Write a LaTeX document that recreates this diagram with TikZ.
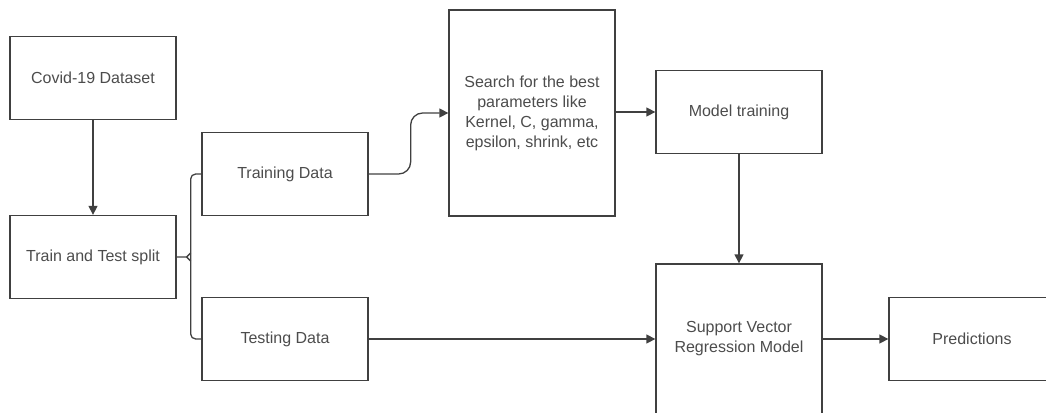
\documentclass[tikz,border=0pt]{standalone}
\usepackage{fontspec}
\setmainfont{Liberation Sans}
\usetikzlibrary{calc}
\usetikzlibrary{arrows.meta,positioning}

\tikzset{
  blk/.style={draw=black!75, line width=1.3pt, minimum width=166pt, minimum height=83pt,
    inner sep=0pt, align=center, text=black!70, font=\fontsize{16}{20}\selectfont},
  ln/.style={draw=black!75, line width=1.3pt},
  arr/.style={ln, -{Triangle[length=9pt,width=9pt]}},
}

\begin{document}
\begin{tikzpicture}[x=1pt,y=-1pt]
    \useasboundingbox (0,0) rectangle (1046,412);
    \clip (0,0) rectangle (1046,412);
    % boxes
    \node[blk] (covid) at (93,78) {Covid-19 Dataset};
    \node[blk] (split) at (93,257) {Train and Test split};
    \node[blk] (trn) at (285,174) {Training Data};
    \node[blk] (tst) at (285,339) {Testing Data};
    \node[blk, minimum height=206pt] (srch) at (532,113)
      {Search for the best\\parameters like\\Kernel, C, gamma,\\epsilon, shrink, etc};
    \node[blk] (mtrain) at (739,112) {Model training};
    \node[blk, minimum height=150pt] (svr) at (739,339) {Support Vector\\Regression Model};
    \node[blk] (pred) at (972,339) {Predictions};
    % brace
    \coordinate (brc) at ($(split.east)+(14,0)$);
    \draw[ln, rounded corners=5pt] (trn.west) -| (brc) |- (tst.west);
    \draw[ln] (split.east) -- ++(10,0) coordinate (tip) -- ++(4,-4);
    \draw[ln] (tip) -- ++(4,4);
    % arrows
    \draw[arr] (covid) -- (split);
    \draw[arr, rounded corners=12pt] (trn.east) -- ++(42,0) |- (srch.west);
    \draw[arr] (srch.east |- mtrain) -- (mtrain.west);
    \draw[arr] (mtrain) -- (svr);
    \draw[arr] (tst.east) -- (svr.west);
    \draw[arr] (svr.east) -- (pred.west);
\end{tikzpicture}
\end{document}
